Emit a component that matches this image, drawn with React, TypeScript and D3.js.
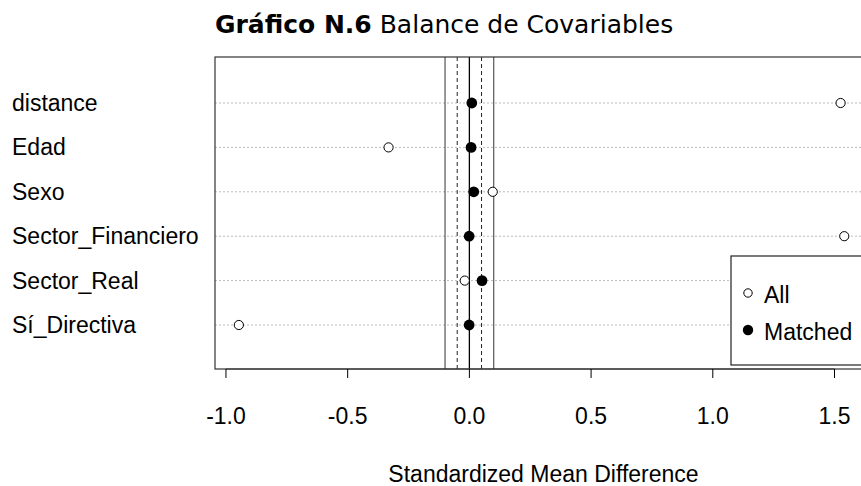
import React from "react";
import * as d3 from "d3";

const covariates = ["distance", "Edad", "Sexo", "Sector_Financiero", "Sector_Real", "Sí_Directiva"];
const allValues = [1.525, -0.332, 0.096, 1.54, -0.019, -0.947];
const matchedValues = [0.01, 0.007, 0.018, -0.001, 0.052, -0.001];
const xTicks = [-1.0, -0.5, 0.0, 0.5, 1.0, 1.5];
const xTickLabels = ["-1.0", "-0.5", "0.0", "0.5", "1.0", "1.5"];
const thresholdsSolid = [-0.1, 0.1];
const thresholdsDashed = [-0.05, 0.05];

const W = 861;
const H = 486;
const box = { left: 215, right: 872, top: 57, bottom: 369 };
const font = "'Liberation Sans', Arial, sans-serif";

export default function App() {
  const x = d3.scaleLinear().domain([-1.045, 1.654]).range([box.left, box.right]);
  const y = d3
    .scalePoint<string>()
    .domain(covariates)
    .range([103, 325]);

  return (
    <svg
      width={W}
      height={H}
      style={{ position: "absolute", left: 0, top: 0, background: "#fff" }}
    >
      <text x={215} y={33} fontFamily="'DejaVu Sans', sans-serif" fontSize={25} fill="#000">
        <tspan fontWeight="bold">Gráfico N.6</tspan>
        <tspan> Balance de Covariables</tspan>
      </text>

      {/* grid */}
      {covariates.map((c) => (
        <line
          key={c}
          x1={box.left}
          x2={box.right}
          y1={y(c)}
          y2={y(c)}
          stroke="#bbb"
          strokeDasharray="2,2"
          strokeWidth={1}
        />
      ))}

      {/* thresholds */}
      {thresholdsSolid.map((t) => (
        <line key={t} x1={x(t)} x2={x(t)} y1={box.top} y2={box.bottom} stroke="#555" strokeWidth={1.2} />
      ))}
      {thresholdsDashed.map((t) => (
        <line
          key={t}
          x1={x(t)}
          x2={x(t)}
          y1={box.top}
          y2={box.bottom}
          stroke="#222"
          strokeWidth={1}
          strokeDasharray="4,3"
        />
      ))}
      <line x1={x(0)} x2={x(0)} y1={box.top} y2={box.bottom} stroke="#000" strokeWidth={1.3} />

      {/* points */}
      {covariates.map((c, i) => (
        <circle
          key={"a" + c}
          cx={x(allValues[i])}
          cy={y(c)}
          r={4.6}
          fill="#fff"
          stroke="#000"
          strokeWidth={1}
        />
      ))}
      {covariates.map((c, i) => (
        <circle key={"m" + c} cx={x(matchedValues[i])} cy={y(c)} r={5.4} fill="#000" />
      ))}

      {/* box */}
      <rect
        x={box.left}
        y={box.top}
        width={box.right - box.left}
        height={box.bottom - box.top}
        fill="none"
        stroke="#333"
        strokeWidth={1.2}
      />

      {/* y labels */}
      {covariates.map((c) => (
        <text
          key={"l" + c}
          x={12}
          y={(y(c) ?? 0) + 8}
          fontFamily={font}
          fontSize={23}
          fill="#000"
        >
          {c}
        </text>
      ))}

      {/* x axis */}
      <line x1={x(xTicks[0])} x2={x(xTicks[xTicks.length - 1])} y1={box.bottom} y2={box.bottom} stroke="#333" />
      {xTicks.map((t, i) => (
        <g key={t}>
          <line x1={x(t)} x2={x(t)} y1={box.bottom} y2={box.bottom + 9} stroke="#000" />
          <text
            x={x(t)}
            y={424}
            textAnchor="middle"
            fontFamily={font}
            fontSize={23}
            fill="#000"
          >
            {xTickLabels[i]}
          </text>
        </g>
      ))}
      <text
        x={(box.left + box.right) / 2}
        y={482}
        textAnchor="middle"
        fontFamily={font}
        fontSize={23}
        fill="#000"
      >
        Standardized Mean Difference
      </text>

      {/* legend */}
      <rect x={731} y={256} width={160} height={109} fill="#fff" stroke="#222" strokeWidth={1.2} />
      <circle cx={748} cy={293} r={4.2} fill="#fff" stroke="#000" strokeWidth={1} />
      <text x={764} y={303} fontFamily={font} fontSize={23} fill="#000">
        All
      </text>
      <circle cx={748} cy={330} r={5.2} fill="#000" />
      <text x={764} y={340} fontFamily={font} fontSize={23} fill="#000">
        Matched
      </text>
    </svg>
  );
}
